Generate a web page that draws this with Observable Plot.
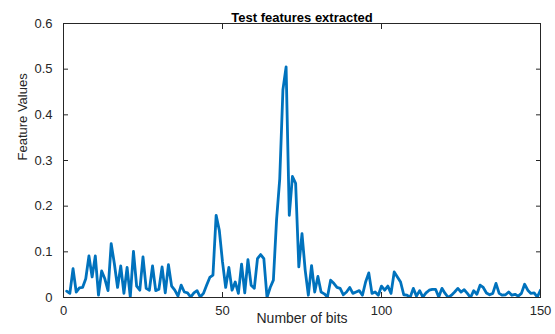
<!DOCTYPE html>
<html>
<head>
<meta charset="utf-8">
<script src="https://cdn.jsdelivr.net/npm/d3@7"></script>
<script src="https://cdn.jsdelivr.net/npm/@observablehq/plot@0.6"></script>
<style>
  html, body { margin: 0; padding: 0; background: #fff; }
  #chart { width: 555px; height: 334px; }
</style>
</head>
<body>
<div id="chart"></div>
<script>
const title = "Test features extracted";
const xLabel = "Number of bits";
const yLabel = "Feature Values";
const xTicks = [0, 50, 100, 150];
const yTicks = [0, 0.1, 0.2, 0.3, 0.4, 0.5, 0.6];
const bits = d3.range(1, 151);
const featureValues = [
  0.014, 0.009, 0.063, 0.012, 0.021, 0.022, 0.041, 0.091, 0.045, 0.091,
  0.005, 0.058, 0.041, 0.015, 0.118, 0.074, 0.022, 0.069, 0.009, 0.066,
  0.001, 0.101, 0.025, 0.016, 0.089, 0.020, 0.016, 0.069, 0.015, 0.018,
  0.067, 0.010, 0.072, 0.025, 0.016, 0.003, 0.027, 0.012, 0.010, 0.001,
  0.010, 0.015, 0.001, 0.009, 0.027, 0.044, 0.049, 0.180, 0.147, 0.078,
  0.022, 0.066, 0.016, 0.034, 0.009, 0.073, 0.010, 0.083, 0.027, 0.020,
  0.085, 0.094, 0.085, 0.000, 0.022, 0.038, 0.170, 0.260, 0.455, 0.505,
  0.180, 0.265, 0.250, 0.067, 0.140, 0.060, 0.005, 0.070, 0.012, 0.046,
  0.012, 0.008, 0.001, 0.038, 0.031, 0.022, 0.020, 0.006, 0.012, 0.022,
  0.009, 0.012, 0.015, 0.005, 0.034, 0.054, 0.009, 0.012, 0.005, 0.025,
  0.016, 0.025, 0.009, 0.056, 0.045, 0.034, 0.006, 0.005, 0.000, 0.020,
  0.003, 0.015, 0.001, 0.010, 0.016, 0.018, 0.018, 0.001, 0.020, 0.009,
  0.000, 0.005, 0.012, 0.020, 0.012, 0.017, 0.009, 0.000, 0.015, 0.007,
  0.027, 0.022, 0.010, 0.006, 0.009, 0.031, 0.009, 0.005, 0.006, 0.012,
  0.005, 0.007, 0.003, 0.009, 0.029, 0.016, 0.009, 0.010, 0.001, 0.016
];

const data = bits.map((b, i) => ({bit: b, value: featureValues[i]}));
const axisColor = "#262626";

const chart = Plot.plot({
  width: 555,
  height: 334,
  marginLeft: 63,
  marginRight: 15,
  marginTop: 23,
  marginBottom: 37,
  style: {fontFamily: "Arial, 'Liberation Sans', sans-serif", fontSize: "13px", color: axisColor, background: "#fff"},
  x: {domain: [0, 150]},
  y: {domain: [0, 0.6]},
  marks: [
    Plot.line(data, {x: "bit", y: "value", stroke: "#0072BD", strokeWidth: 2.8, strokeLinejoin: "round", clip: true}),
    Plot.frame({stroke: axisColor, strokeWidth: 1}),
    Plot.axisX(xTicks, {anchor: "bottom", tickSize: -5, tickPadding: 13, label: null, stroke: axisColor, fill: axisColor, fontSize: 13}),
    Plot.axisX(xTicks, {anchor: "top", tickSize: -5, tickFormat: () => "", label: null, stroke: axisColor}),
    Plot.axisY(yTicks, {anchor: "left", tickSize: -5, tickPadding: 16, label: null, stroke: axisColor, fill: axisColor, fontSize: 13, tickFormat: d => d === 0 ? "0" : d3.format(".1f")(d)}),
    Plot.axisY(yTicks, {anchor: "right", tickSize: -5, tickFormat: () => "", label: null, stroke: axisColor}),
    Plot.text([title], {frameAnchor: "top", dy: -11, text: d => d, fontWeight: "bold", fontSize: 13, fill: "#000"}),
    Plot.text([xLabel], {frameAnchor: "bottom", dy: 25, text: d => d, fontSize: 14, fill: axisColor}),
    Plot.text([yLabel], {frameAnchor: "left", dx: -41, rotate: -90, text: d => d, fontSize: 13, fill: axisColor, fontStretch: "condensed"})
  ]
});
document.getElementById("chart").append(chart);
</script>
</body>
</html>
